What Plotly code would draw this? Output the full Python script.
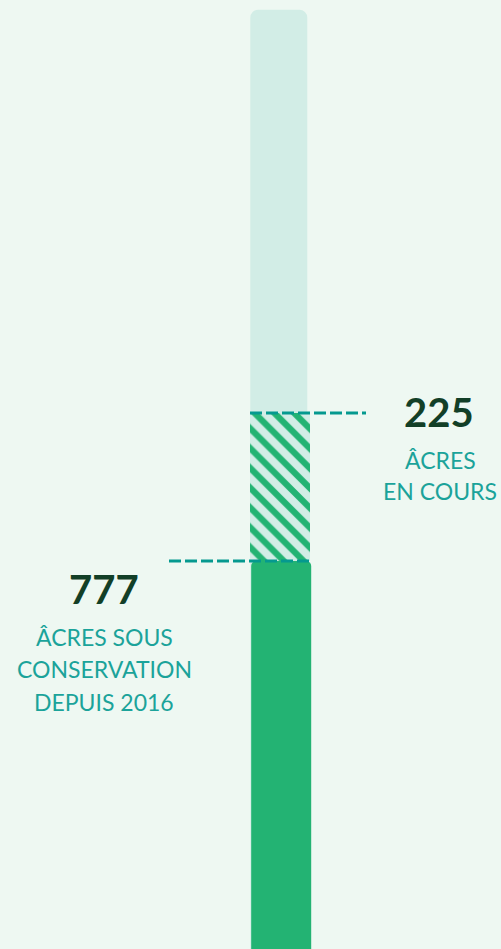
import plotly.graph_objects as go

# ---- data ----
categories = ["acres"]
conserved = [777]          # âcres sous conservation depuis 2016
in_progress = [225]        # âcres en cours
remaining = [613]          # remaining part of the column (estimated)
number_conserved = "777"
lines_conserved = ["ÂCRES SOUS", "CONSERVATION", "DEPUIS 2016"]
number_progress = "225"
lines_progress = ["ÂCRES", "EN COURS"]

# ---- styling / layout constants ----
W, H = 501, 949
BG = "#eef8f2"
LIGHT = "#d2ede6"
GREEN = "#23b373"
DASH = "#05998f"
DARK = "#123f27"
TEAL = "#1ba39a"
FONT = "Lato"

# pixel geometry of the column
BAR_CX, BAR_W = 280, 60
K = in_progress[0] / 148.0          # data units per pixel
Y_REF_PX = 561                      # pixel row of the 'conserved' boundary


def xd(px):
    return (px - BAR_CX) / BAR_W


def yd(px):
    return conserved[0] + (Y_REF_PX - px) * K


total = conserved[0] + in_progress[0] + remaining[0]
top_progress = conserved[0] + in_progress[0]

fig = go.Figure()

# background (full goal) column
fig.add_trace(go.Bar(
    x=[-0.02], y=[total], base=[0], width=0.95,
    marker=dict(color=LIGHT, cornerradius=8, line=dict(width=0)),
    hoverinfo="skip", showlegend=False,
))
# conserved (solid)
fig.add_trace(go.Bar(
    x=[0.02], y=conserved, base=[0], width=1.0,
    marker=dict(color=GREEN, cornerradius=5, line=dict(width=0)),
    hoverinfo="skip", showlegend=False,
))
# in progress (hatched)
fig.add_trace(go.Bar(
    x=[0], y=in_progress, base=conserved, width=1.0,
    marker=dict(color=LIGHT, line=dict(width=0),
                pattern=dict(shape="\\", fgcolor=GREEN, bgcolor=LIGHT,
                             size=14, solidity=0.45, fillmode="replace")),
    hoverinfo="skip", showlegend=False,
))

# dashed connector lines
fig.add_shape(type="line", xref="x", yref="y",
              x0=xd(250), x1=xd(366), y0=top_progress, y1=top_progress,
              line=dict(color=DASH, width=3, dash="12px,4px"))
fig.add_shape(type="line", xref="x", yref="y",
              x0=xd(169), x1=xd(310), y0=conserved[0], y1=conserved[0],
              line=dict(color=DASH, width=3, dash="12px,4px"))

# numbers
fig.add_annotation(x=xd(439), y=yd(412), xref="x", yref="y",
                   text="<b>%s</b>" % number_progress, showarrow=False,
                   xanchor="center", yanchor="middle",
                   font=dict(family=FONT, size=40, color=DARK))
fig.add_annotation(x=xd(104), y=yd(589), xref="x", yref="y",
                   text="<b>%s</b>" % number_conserved, showarrow=False,
                   xanchor="center", yanchor="middle",
                   font=dict(family=FONT, size=40, color=DARK))

# caption lines (one annotation per line for the wide line spacing)
for txt, cy in zip(lines_progress, [460, 490.5]):
    fig.add_annotation(x=xd(440), y=yd(cy), xref="x", yref="y",
                       text=txt, showarrow=False,
                       xanchor="center", yanchor="middle",
                       font=dict(family=FONT, size=23, color=TEAL, weight=400))
for txt, cy in zip(lines_conserved, [636.5, 668.5, 701.5]):
    fig.add_annotation(x=xd(104), y=yd(cy), xref="x", yref="y",
                       text=txt, showarrow=False,
                       xanchor="center", yanchor="middle",
                       font=dict(family=FONT, size=23, color=TEAL, weight=400))

fig.update_layout(
    width=W, height=H,
    margin=dict(l=0, r=0, t=0, b=0),
    paper_bgcolor=BG, plot_bgcolor=BG,
    barmode="overlay",
    xaxis=dict(range=[xd(0), xd(W)], visible=False, fixedrange=True),
    yaxis=dict(range=[yd(H), yd(0)], visible=False, fixedrange=True),
    showlegend=False,
)

fig.write_html("out.html")
